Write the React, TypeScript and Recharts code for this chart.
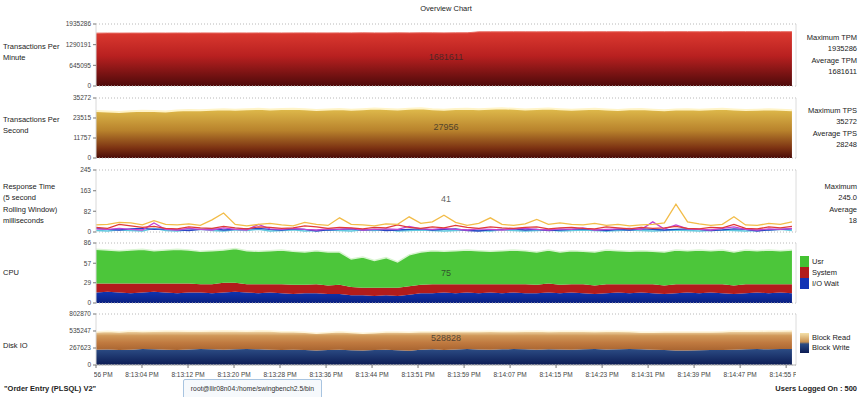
import React from "react";
import {
  AreaChart,
  Area,
  LineChart,
  Line,
  XAxis,
  YAxis,
  ReferenceLine,
} from "recharts";

// sample times, seconds after 8:12:56 PM
const TIMES = [
  0, 2, 4, 6, 8, 10, 12, 14, 16, 18, 20, 22, 24, 26, 28, 30, 32, 34, 36, 38,
  40, 42, 44, 46, 48, 50, 52, 54, 56, 58, 60, 62, 64, 66, 68, 70, 72, 74, 76,
  78, 80, 82, 84, 86, 88, 90, 92, 94, 96, 98, 100, 102, 104, 106, 108, 110,
  112, 114, 116, 118, 120,
];

const X_TICKS = [
  0, 7.93, 15.87, 23.8, 31.73, 39.67, 47.6, 55.53, 63.47, 71.4, 79.33, 87.27,
  95.2, 103.13, 111.07, 119,
];
const X_LABELS = [
  "8:12:56 PM", "8:13:04 PM", "8:13:12 PM", "8:13:20 PM", "8:13:28 PM",
  "8:13:36 PM", "8:13:44 PM", "8:13:51 PM", "8:13:59 PM", "8:14:07 PM",
  "8:14:15 PM", "8:14:23 PM", "8:14:31 PM", "8:14:39 PM", "8:14:47 PM",
  "8:14:55 PM",
];

const TPM = [
  1650000, 1652000, 1651000, 1653000, 1652000, 1654000, 1653000, 1655000,
  1654000, 1656000, 1655000, 1654000, 1656000, 1655000, 1657000, 1656000,
  1655000, 1657000, 1658000, 1657000, 1656000, 1658000, 1657000, 1659000,
  1658000, 1657000, 1659000, 1658000, 1660000, 1659000, 1658000, 1660000,
  1661000, 1690000, 1691000, 1690000, 1692000, 1691000, 1690000, 1692000,
  1693000, 1692000, 1691000, 1693000, 1692000, 1694000, 1693000, 1692000,
  1694000, 1693000, 1695000, 1694000, 1693000, 1695000, 1694000, 1696000,
  1695000, 1694000, 1696000, 1695000, 1694000,
];

const TPS = [
  27600, 27400, 27100, 27500, 27800, 27700, 27300, 27900, 28200, 28100,
  28400, 28600, 28300, 28700, 28900, 28500, 28800, 29000, 28600, 28200,
  28500, 28800, 28400, 28700, 29100, 28800, 28500, 28900, 29200, 28700,
  28400, 28800, 29000, 28600, 28900, 29300, 28900, 28500, 28800, 29100,
  28700, 28400, 28600, 28900, 28500, 28200, 28600, 28800, 28400, 28100,
  28500, 28700, 28300, 28600, 28900, 28500, 28200, 28400, 28700, 28300,
  28000,
];

const RT_ORANGE = [
  28, 30, 38, 36, 28, 45, 30, 28, 32, 26, 48, 75, 30, 24, 30, 34, 28, 24, 38,
  30, 26, 56, 30, 28, 24, 32, 30, 60, 34, 40, 66, 38, 26, 34, 56, 30, 26, 32,
  50, 30, 36, 30, 28, 34, 26, 30, 24, 28, 30, 36, 110, 40, 32, 26, 30, 60, 28,
  26, 34, 30, 40,
];
const RT_RED = [
  18, 14, 30, 24, 18, 22, 14, 12, 20, 16, 14, 22, 16, 12, 20, 18, 14, 16, 24,
  20, 14, 18, 16, 12, 18, 16, 28, 18, 14, 20, 16, 26, 18, 14, 20, 16, 14, 18,
  20, 12, 16, 18, 14, 12, 20, 16, 12, 18, 14, 16, 22, 14, 12, 18, 16, 30, 14,
  12, 20, 16, 22,
];
const RT_MAGENTA = [
  12, 10, 14, 10, 8, 36, 10, 8, 14, 10, 8, 16, 10, 8, 30, 12, 10, 14, 10, 8,
  12, 10, 14, 8, 10, 12, 10, 22, 12, 10, 14, 10, 8, 12, 10, 8, 12, 14, 10, 8,
  12, 10, 16, 8, 10, 12, 14, 10, 40, 12, 28, 12, 10, 8, 14, 20, 10, 8, 12, 10,
  14,
];
const RT_BLUE = [
  14, 10, 8, 12, 14, 10, 12, 8, 6, 10, 12, 8, 10, 12, 14, 10, 8, 12, 10, 4, 8,
  10, 12, 8, 10, 6, 8, 10, 12, 8, 10, 12, 6, 4, 8, 10, 12, 8, 10, 6, 8, 10, 12,
  8, 6, 10, 8, 12, 10, 8, 10, 12, 10, 6, 8, 12, 10, 4, 8, 10, 12,
];
const RT_CYAN = [
  6, 4, 8, 6, 4, 14, 6, 4, 8, 10, 6, 4, 8, 6, 10, 4, 6, 8, 4, 6, 8, 6, 4, 8, 6,
  10, 4, 6, 8, 6, 4, 6, 8, 6, 4, 8, 6, 4, 6, 8, 4, 6, 8, 6, 4, 6, 8, 6, 4, 6,
  8, 6, 4, 6, 8, 6, 4, 6, 8, 10, 6,
];

const CPU_IO = [
  15, 16, 15, 14, 15, 16, 15, 14, 15, 15, 14, 15, 16, 15, 14, 15, 14, 13, 14,
  14, 13, 13, 11, 11, 10, 11, 10, 12, 14, 14, 15, 14, 15, 14, 15, 14, 15, 14,
  14, 15, 14, 15, 14, 13, 14, 15, 14, 15, 14, 13, 14, 15, 14, 15, 14, 13, 14,
  15, 14, 15, 14,
];
const CPU_SYS = [
  13, 12, 13, 14, 13, 12, 13, 14, 13, 12, 13, 14, 13, 12, 13, 12, 13, 13, 12,
  13, 12, 13, 12, 11, 12, 11, 12, 12, 12, 13, 12, 13, 12, 13, 12, 13, 12, 13,
  12, 13, 12, 12, 13, 12, 13, 12, 13, 12, 13, 12, 13, 12, 13, 12, 13, 12, 13,
  12, 13, 12, 13,
];
const CPU_USR = [
  49, 48, 47, 48, 49, 47, 48, 49, 48, 47, 48, 47, 49, 48, 47, 48, 49, 48, 47,
  48, 48, 47, 40, 44, 39, 43, 37, 45, 47, 48, 47, 48, 49, 48, 47, 48, 49, 48,
  47, 48, 47, 48, 47, 48, 49, 48, 47, 48, 47, 48, 49, 48, 49, 48, 49, 48, 49,
  48, 49, 48, 49,
];

const DISK_WRITE = [
  240000, 245000, 238000, 242000, 250000, 246000, 240000, 236000, 244000,
  250000, 246000, 240000, 248000, 252000, 246000, 240000, 236000, 242000,
  238000, 230000, 236000, 240000, 234000, 228000, 236000, 242000, 232000,
  226000, 240000, 246000, 238000, 244000, 250000, 244000, 240000, 246000,
  250000, 246000, 242000, 248000, 244000, 240000, 246000, 250000, 244000,
  248000, 252000, 246000, 240000, 236000, 230000, 228000, 234000, 238000,
  236000, 240000, 246000, 250000, 248000, 252000, 250000,
];
const DISK_READ = [
  280000, 288000, 282000, 292000, 276000, 284000, 296000, 300000, 288000,
  280000, 290000, 298000, 286000, 280000, 292000, 296000, 288000, 282000,
  276000, 268000, 274000, 282000, 278000, 272000, 270000, 276000, 286000,
  290000, 284000, 278000, 288000, 282000, 276000, 284000, 290000, 282000,
  276000, 286000, 292000, 280000, 286000, 292000, 284000, 278000, 288000,
  282000, 276000, 270000, 276000, 284000, 290000, 292000, 286000, 282000,
  288000, 294000, 286000, 280000, 288000, 282000, 290000,
];

const TPM_TICKS = [0, 645095, 1290191, 1935286];
const TPS_TICKS = [0, 11757, 23515, 35272];
const RT_TICKS = [0, 82, 163, 245];
const CPU_TICKS = [0, 29, 57, 86];
const DISK_TICKS = [0, 267623, 535247, 802870];

const data = TIMES.map((t, i) => ({
  t,
  tpm: TPM[i],
  tps: TPS[i],
  rtOrange: RT_ORANGE[i],
  rtRed: RT_RED[i],
  rtMagenta: RT_MAGENTA[i],
  rtBlue: RT_BLUE[i],
  rtCyan: RT_CYAN[i],
  io: CPU_IO[i],
  sys: CPU_SYS[i],
  usr: CPU_USR[i],
  write: DISK_WRITE[i],
  read: DISK_READ[i],
}));

const X_MAX = 120.7;
const FONT = "'Liberation Sans', Arial, sans-serif";
const W = 864;
const MARGIN = { top: 4, right: 68, bottom: 5, left: 36 };

const yAxisProps = (ticks: number[]) => ({
  domain: [0, ticks[ticks.length - 1]] as [number, number],
  ticks,
  interval: 0 as const,
  width: 60,
  tickSize: 3,
  tick: { fontSize: 6.5, fill: "#444", fontFamily: FONT },
  tickLine: { stroke: "#777" },
  axisLine: { stroke: "#d8d8d8" },
  allowDataOverflow: true,
});

const frame = (max: number) => [
  <ReferenceLine key="top" y={max} stroke="#b8b8b8" strokeDasharray="1 2" />,
  <ReferenceLine key="bot" y={0} stroke="#b8b8b8" strokeDasharray="1 2" />,
  <ReferenceLine key="right" x={X_MAX} stroke="#dcdcdc" />,
];

const XTick = (props: any) => {
  const { x, y, payload, index } = props;
  return (
    <g clipPath="url(#xclip)">
      <text
        x={x}
        y={y + 7}
        textAnchor="middle"
        fontSize={6.5}
        fill="#444"
        fontFamily={FONT}
      >
        {X_LABELS[index] ?? payload.value}
      </text>
    </g>
  );
};

const txt: React.CSSProperties = {
  position: "absolute",
  fontFamily: FONT,
  fontSize: 7.5,
  color: "#222",
  lineHeight: "11.3px",
  whiteSpace: "nowrap",
};

const Right = ({ top, lines }: { top: number; lines: string[] }) => (
  <div style={{ ...txt, top, right: 7, textAlign: "right" }}>
    {lines.map((l) => (
      <div key={l}>{l}</div>
    ))}
  </div>
);

const Center = ({ top, text }: { top: number; text: string }) => (
  <div
    style={{
      ...txt,
      top,
      left: 346,
      width: 200,
      textAlign: "center",
      fontSize: 9,
      color: "rgba(40,40,40,0.75)",
    }}
  >
    {text}
  </div>
);

export default function App() {
  return (
    <div
      style={{
        position: "absolute",
        left: 0,
        top: 0,
        width: W,
        height: 397,
        background: "#fff",
        overflow: "hidden",
      }}
    >
      <div style={{ ...txt, top: 3, left: 0, width: 892, textAlign: "center" }}>
        Overview Chart
      </div>

      {/* Transactions per minute */}
      <div style={{ position: "absolute", top: 20, left: 0 }}>
        <AreaChart width={W} height={71} data={data} margin={MARGIN}>
          <defs>
            <linearGradient id="gTpm" x1="0" y1="0" x2="0" y2="1">
              <stop offset="0" stopColor="#dc3a30" />
              <stop offset="0.45" stopColor="#b82020" />
              <stop offset="1" stopColor="#4e0a0a" />
            </linearGradient>
          </defs>
          <XAxis dataKey="t" type="number" domain={[0, X_MAX]} hide />
          <YAxis {...yAxisProps(TPM_TICKS)} />
          {frame(1935286)}
          <Area
            type="linear"
            dataKey="tpm"
            stroke="#e86a60"
            strokeWidth={1}
            fill="url(#gTpm)"
            fillOpacity={1}
            isAnimationActive={false}
          />
        </AreaChart>
      </div>

      {/* Transactions per second */}
      <div style={{ position: "absolute", top: 94, left: 0 }}>
        <AreaChart width={W} height={69} data={data} margin={MARGIN}>
          <defs>
            <linearGradient id="gTps" x1="0" y1="0" x2="0" y2="1">
              <stop offset="0" stopColor="#e0bc4c" />
              <stop offset="0.45" stopColor="#b8822c" />
              <stop offset="0.8" stopColor="#7c3212" />
              <stop offset="1" stopColor="#4a0c08" />
            </linearGradient>
          </defs>
          <XAxis dataKey="t" type="number" domain={[0, X_MAX]} hide />
          <YAxis {...yAxisProps(TPS_TICKS)} />
          {frame(35272)}
          <Area
            type="linear"
            dataKey="tps"
            stroke="#fff4c8"
            strokeWidth={2}
            fill="url(#gTps)"
            fillOpacity={1}
            isAnimationActive={false}
          />
        </AreaChart>
      </div>

      {/* Response time */}
      <div style={{ position: "absolute", top: 166, left: 0 }}>
        <LineChart width={W} height={71} data={data} margin={MARGIN}>
          <XAxis dataKey="t" type="number" domain={[0, X_MAX]} hide />
          <YAxis {...yAxisProps(RT_TICKS)} />
          {frame(245)}
          <Line type="linear" dataKey="rtCyan" stroke="#5cc8e0" strokeWidth={1.3} dot={false} isAnimationActive={false} />
          <Line type="linear" dataKey="rtBlue" stroke="#2a44c4" strokeWidth={1.3} dot={false} isAnimationActive={false} />
          <Line type="linear" dataKey="rtMagenta" stroke="#c444d4" strokeWidth={1.3} dot={false} isAnimationActive={false} />
          <Line type="linear" dataKey="rtRed" stroke="#e03a3a" strokeWidth={1.3} dot={false} isAnimationActive={false} />
          <Line type="linear" dataKey="rtOrange" stroke="#f2bc48" strokeWidth={1.3} dot={false} isAnimationActive={false} />
        </LineChart>
      </div>

      {/* CPU */}
      <div style={{ position: "absolute", top: 239, left: 0 }}>
        <AreaChart width={W} height={69} data={data} margin={MARGIN}>
          <defs>
            <linearGradient id="gIo" x1="0" y1="0" x2="0" y2="1">
              <stop offset="0" stopColor="#1034b0" />
              <stop offset="1" stopColor="#0a2080" />
            </linearGradient>
          </defs>
          <XAxis dataKey="t" type="number" domain={[0, X_MAX]} hide />
          <YAxis {...yAxisProps(CPU_TICKS)} />
          {frame(86)}
          <Area type="linear" dataKey="io" stackId="cpu" stroke="none" fill="url(#gIo)" fillOpacity={1} isAnimationActive={false} />
          <Area type="linear" dataKey="sys" stackId="cpu" stroke="none" fill="#b21c1c" fillOpacity={1} isAnimationActive={false} />
          <Area type="linear" dataKey="usr" stackId="cpu" stroke="#d8f4d0" strokeWidth={1.5} fill="#4cc63a" fillOpacity={1} isAnimationActive={false} />
        </AreaChart>
      </div>

      {/* Disk IO */}
      <div style={{ position: "absolute", top: 310, left: 0 }}>
        <AreaChart width={W} height={70} data={data} margin={{ ...MARGIN, bottom: 1 }}>
          <defs>
            <clipPath id="xclip">
              <rect x={94} y={0} width={702} height={80} />
            </clipPath>
            <linearGradient id="gRead" x1="0" y1="0" x2="0" y2="1">
              <stop offset="0" stopColor="#f6e4b8" />
              <stop offset="0.25" stopColor="#d09858" />
              <stop offset="0.6" stopColor="#c07a40" />
              <stop offset="1" stopColor="#a86430" />
            </linearGradient>
            <linearGradient id="gWrite" x1="0" y1="0" x2="0" y2="1">
              <stop offset="0" stopColor="#2c4c84" />
              <stop offset="1" stopColor="#0c1c54" />
            </linearGradient>
          </defs>
          <XAxis
            dataKey="t"
            type="number"
            domain={[0, X_MAX]}
            ticks={X_TICKS}
            interval={0}
            height={14}
            tickSize={3}
            tickLine={{ stroke: "#777" }}
            axisLine={{ stroke: "#b8b8b8" }}
            tick={<XTick />}
            allowDataOverflow
          />
          <YAxis {...yAxisProps(DISK_TICKS)} />
          {frame(802870)}
          <Area type="linear" dataKey="write" stackId="disk" stroke="none" fill="url(#gWrite)" fillOpacity={1} isAnimationActive={false} />
          <Area type="linear" dataKey="read" stackId="disk" stroke="#fff6dc" strokeWidth={1.5} fill="url(#gRead)" fillOpacity={1} isAnimationActive={false} />
        </AreaChart>
      </div>

      <Center top={52} text="1681611" />
      <Center top={122} text="27956" />
      <Center top={194} text="41" />
      <Center top={268} text="75" />
      <Center top={333} text="528828" />

      {/* left titles */}
      <div style={{ ...txt, top: 41, left: 3 }}>
        Transactions Per
        <br />
        Minute
      </div>
      <div style={{ ...txt, top: 114, left: 3 }}>
        Transactions Per
        <br />
        Second
      </div>
      <div style={{ ...txt, top: 181, left: 3 }}>
        Response Time
        <br />
        (5 second
        <br />
        Rolling Window)
        <br />
        milliseconds
      </div>
      <div style={{ ...txt, top: 267, left: 3 }}>CPU</div>
      <div style={{ ...txt, top: 340, left: 3 }}>Disk IO</div>

      <Right top={32} lines={["Maximum TPM", "1935286", "Average TPM", "1681611"]} />
      <Right top={105} lines={["Maximum TPS", "35272", "Average TPS", "28248"]} />
      <Right top={181} lines={["Maximum", "245.0", "Average", "18"]} />

      {/* CPU legend */}
      <div style={{ position: "absolute", left: 800, top: 256, width: 9 }}>
        <div style={{ height: 11, background: "#44c232" }} />
        <div style={{ height: 11, background: "#b21c1c" }} />
        <div style={{ height: 11, background: "#1232b4" }} />
      </div>
      <div style={{ ...txt, top: 256, left: 812, lineHeight: "11px" }}>
        <div>Usr</div>
        <div>System</div>
        <div>I/O Wait</div>
      </div>

      {/* Disk legend */}
      <div
        style={{
          position: "absolute",
          left: 800,
          top: 333,
          width: 9,
          height: 20,
          background: "linear-gradient(#f4e0a8, #c89050 45%, #2c4c84 55%, #0c1c54)",
        }}
      />
      <div style={{ ...txt, top: 333, left: 812, lineHeight: "10px" }}>
        <div>Block Read</div>
        <div>Block Write</div>
      </div>

      {/* footer */}
      <div style={{ ...txt, top: 383, left: 4, fontWeight: "bold" }}>
        "Order Entry (PLSQL) V2"
      </div>
      <div
        style={{
          ...txt,
          top: 379,
          left: 183,
          width: 137,
          height: 18,
          lineHeight: "18px",
          fontSize: 6.8,
          border: "1px solid #a8c4e0",
          borderRadius: 2,
          background: "#f6f9fc",
          textAlign: "center",
          color: "#333",
        }}
      >
        root@llir08n04:/home/swingbench2.5/bin
      </div>
      <div style={{ ...txt, top: 383, right: 7, fontWeight: "bold" }}>
        Users Logged On : 500
      </div>
    </div>
  );
}
